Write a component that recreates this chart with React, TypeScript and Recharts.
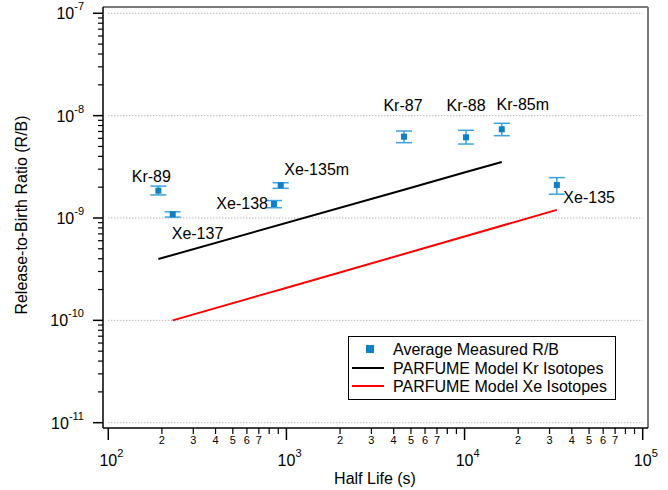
import React from "react";
import { ComposedChart, Scatter, XAxis, YAxis, ErrorBar, ReferenceLine, Legend, Label } from "recharts";

// measured isotopes
const isotopes = ["Kr-89", "Xe-137", "Xe-138", "Xe-135m", "Kr-87", "Kr-88", "Kr-85m", "Xe-135"];
const halfLife = [191, 230, 851, 929, 4571, 10190, 16180, 32960];
const measuredRB = [1.85e-9, 1.086e-9, 1.37e-9, 2.09e-9, 6.23e-9, 6.14e-9, 7.36e-9, 2.1e-9];
const errLow = [0.17e-9, 0.066e-9, 0.11e-9, 0.14e-9, 0.79e-9, 0.86e-9, 0.99e-9, 0.39e-9];
const errHigh = [0.2e-9, 0.064e-9, 0.11e-9, 0.12e-9, 0.85e-9, 1.05e-9, 1.06e-9, 0.38e-9];

// PARFUME model
const krHalfLife = [191, 4571, 10190, 16180];
const krModel = [3.97e-10, 1.89e-9, 2.81e-9, 3.52e-9];
const xeHalfLife = [230, 851, 929, 32960];
const xeModel = [1.0e-10, 1.92e-10, 2.0e-10, 1.2e-9];

// axes
const xExponents = [2, 3, 4, 5];
const yExponents = [-11, -10, -9, -8, -7];
const minorSteps = [2, 3, 4, 5, 6, 7, 8, 9];
const minorLabels = ["2", "3", "4", "5", "6", "7"];
const xDomain = [93.39, 107094];
const yDomain = [8.875e-12, 1.152e-7];

const xTicks: number[] = [];
xExponents.forEach((e, i) => {
  xTicks.push(10 ** e);
  if (i < xExponents.length - 1) minorSteps.forEach((m) => xTicks.push(m * 10 ** e));
});
const yTicks: number[] = [];
yExponents.forEach((e, i) => {
  yTicks.push(10 ** e);
  if (i < yExponents.length - 1) minorSteps.forEach((m) => yTicks.push(m * 10 ** e));
});

const measured = isotopes.map((name, i) => ({
  name,
  x: halfLife[i],
  y: measuredRB[i],
  err: [errLow[i], errHigh[i]],
}));
const krLine = krHalfLife.map((x, i) => ({ x, y: krModel[i] }));
const xeLine = xeHalfLife.map((x, i) => ({ x, y: xeModel[i] }));

const FONT = 'Arial, "Liberation Sans", sans-serif';
const BLUE = "#0f7fc7";
const BLUE_ERR = "#3aa2e0";

// label placement relative to each point
const labelPos: Record<string, { dx: number; dy: number; anchor: string }> = {
  "Kr-89": { dx: -7, dy: -9, anchor: "middle" },
  "Xe-137": { dx: -1, dy: 25, anchor: "start" },
  "Xe-138": { dx: -6, dy: 5, anchor: "end" },
  "Xe-135m": { dx: 3.5, dy: -10, anchor: "start" },
  "Kr-87": { dx: -1, dy: -26, anchor: "middle" },
  "Kr-88": { dx: 0, dy: -26, anchor: "middle" },
  "Kr-85m": { dx: 21, dy: -19, anchor: "middle" },
  "Xe-135": { dx: 6.5, dy: 18, anchor: "start" },
};

function splitValue(v: number) {
  const e = Math.round(Math.log10(v));
  const major = Math.abs(v - 10 ** e) < 1e-6 * v;
  const mant = Math.round(v / 10 ** Math.floor(Math.log10(v) + 1e-9));
  return { e, major, mant };
}

function XTick(props: any) {
  const { x, y, payload } = props;
  const { e, major, mant } = splitValue(payload.value);
  if (major) {
    return (
      <g>
        <line x1={x} x2={x} y1={y} y2={y + 12} stroke="#000" strokeWidth={1.5} />
        <text x={x} y={y + 38} textAnchor="middle" fontSize={16} fontFamily={FONT} fill="#000">10</text>
        <text x={x + 9} y={y + 29} textAnchor="start" fontSize={11} fontFamily={FONT} fill="#000">{e}</text>
      </g>
    );
  }
  const lbl = minorLabels.includes(String(mant)) ? String(mant) : "";
  return (
    <g>
      <line x1={x} x2={x} y1={y} y2={y + 6} stroke="#000" strokeWidth={1.2} />
      {lbl && (
        <text x={x} y={y + 16} textAnchor="middle" fontSize={11} fontFamily={FONT} fill="#000">{lbl}</text>
      )}
    </g>
  );
}

function YTick(props: any) {
  const { x, y, payload } = props;
  const { e, major } = splitValue(payload.value);
  if (major) {
    return (
      <g>
        <line x1={x - 10} x2={x} y1={y} y2={y} stroke="#000" strokeWidth={1.5} />
        <text x={x - 19} y={y + 6} textAnchor="end" fontSize={16} fontFamily={FONT} fill="#000">
          10<tspan dy={-9} fontSize={11}>{e}</tspan>
        </text>
      </g>
    );
  }
  return <line x1={x - 5} x2={x} y1={y} y2={y} stroke="#000" strokeWidth={1.2} />;
}

function PointShape(props: any) {
  const { cx, cy, payload } = props;
  const pos = labelPos[payload.name];
  return (
    <g>
      <rect x={cx - 3} y={cy - 3} width={6} height={6} fill={BLUE} />
      {pos && (
        <text x={cx + pos.dx} y={cy + pos.dy} textAnchor={pos.anchor} fontSize={16} fontFamily={FONT} fill="#000">
          {payload.name}
        </text>
      )}
    </g>
  );
}

function LegendBox() {
  return (
    <svg width={268} height={64} style={{ display: "block" }}>
      <rect x={0.5} y={0.5} width={267} height={63} fill="#fff" stroke="#000" strokeWidth={1} />
      <rect x={18} y={9} width={8} height={8} fill={BLUE} />
      <text x={45} y={19} fontSize={16} fontFamily={FONT}>Average Measured R/B</text>
      <line x1={4} x2={36} y1={32} y2={32} stroke="#000" strokeWidth={2} />
      <text x={45} y={38} fontSize={16} fontFamily={FONT}>PARFUME Model Kr Isotopes</text>
      <line x1={4} x2={36} y1={50} y2={50} stroke="#ff0000" strokeWidth={2} />
      <text x={45} y={56} fontSize={16} fontFamily={FONT}>PARFUME Model Xe Isotopes</text>
    </svg>
  );
}

export default function App() {
  return (
    <div style={{ position: "absolute", left: 0, top: 0, width: 668, height: 490, background: "#fff" }}>
      <ComposedChart width={668} height={490} margin={{ top: 7, right: 20, bottom: 0, left: 0 }}>
        <XAxis
          type="number"
          dataKey="x"
          scale="log"
          domain={xDomain}
          allowDataOverflow
          ticks={xTicks}
          interval={0}
          tick={<XTick />}
          tickSize={0}
          tickMargin={0}
          tickLine={false}
          axisLine={{ stroke: "#000", strokeWidth: 1.5 }}
          height={62}
        >
          <Label
            content={() => (
              <text x={375} y={484} textAnchor="middle" fontSize={16} fontFamily={FONT} fill="#000">
                Half Life (s)
              </text>
            )}
          />
        </XAxis>
        <YAxis
          type="number"
          dataKey="y"
          scale="log"
          domain={yDomain}
          allowDataOverflow
          ticks={yTicks}
          interval={0}
          tick={<YTick />}
          tickSize={0}
          tickMargin={0}
          tickLine={false}
          axisLine={{ stroke: "#000", strokeWidth: 1.5 }}
          width={103}
        >
          <Label
            content={() => (
              <text
                x={27}
                y={215}
                transform="rotate(-90 27 215)"
                textAnchor="middle"
                fontSize={16}
                fontFamily={FONT}
                fill="#000"
              >
                Release-to-Birth Ratio (R/B)
              </text>
            )}
          />
        </YAxis>
        {yExponents.map((e) => (
          <ReferenceLine
            key={e}
            segment={[{ x: 10 ** xExponents[0], y: 10 ** e }, { x: 10 ** xExponents[3], y: 10 ** e }]}
            stroke="#9a9a9a"
            strokeDasharray="1 2"
          />
        ))}
        <ReferenceLine y={yDomain[1]} stroke="#7a7a7a" strokeWidth={2} />
        <ReferenceLine x={xDomain[1]} stroke="#7a7a7a" strokeWidth={2} />
        <Scatter
          data={krLine}
          line={{ stroke: "#000", strokeWidth: 2 }}
          shape={() => <g />}
          isAnimationActive={false}
        />
        <Scatter
          data={xeLine}
          line={{ stroke: "#ff0000", strokeWidth: 2 }}
          shape={() => <g />}
          isAnimationActive={false}
        />
        <Scatter data={measured} shape={<PointShape />} isAnimationActive={false}>
          <ErrorBar dataKey="err" direction="y" width={8} stroke={BLUE_ERR} strokeWidth={1.5} />
        </Scatter>
        <Legend
          layout="horizontal"
          verticalAlign="middle"
          align="center"
          content={() => <LegendBox />}
          wrapperStyle={{ position: "absolute", left: 348, top: 336, width: 268, height: 64 }}
        />
      </ComposedChart>
    </div>
  );
}
